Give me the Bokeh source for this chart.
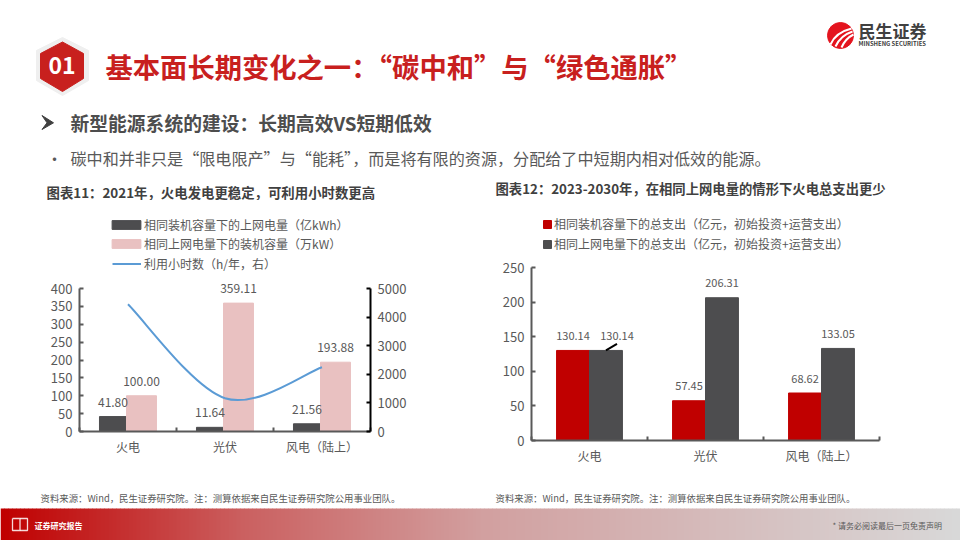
from bokeh.plotting import figure
from bokeh.models import (ColumnDataSource, Range1d, LinearAxis, FixedTicker, LabelSet,
                          Legend, LegendItem)
from bokeh.layouts import column, row
from bokeh.core.properties import value
from bokeh.embed import file_html
from bokeh.resources import INLINE
import numpy as np

FONT = "Noto Sans CJK SC"
GREY = "#595959"

# ---- data ----
categories = ["火电", "光伏", "风电（陆上）"]
grid_power = [41.80, 11.64, 21.56]
capacity = [100.00, 359.11, 193.88]
hours = [4448, 1163, 2246]
cost_same_capacity = [130.14, 57.45, 68.62]
cost_same_power = [130.14, 206.31, 133.05]
left_ticks = [0, 50, 100, 150, 200, 250, 300, 350, 400]
right_ticks = [0, 1000, 2000, 3000, 4000, 5000]
cost_ticks = [0, 50, 100, 150, 200, 250]

title_text = "基本面长期变化之一：“碳中和”与“绿色通胀”"
sub_text = "新型能源系统的建设：长期高效VS短期低效"
bullet_text = "碳中和并非只是“限电限产”与“能耗”，而是将有限的资源，分配给了中短期内相对低效的能源。"
title_11 = "图表11：2021年，火电发电更稳定，可利用小时数更高"
title_12 = "图表12：2023-2030年，在相同上网电量的情形下火电总支出更少"
legend_11 = ["相同装机容量下的上网电量（亿kWh）", "相同上网电量下的装机容量（万kW）", "利用小时数（h/年，右）"]
legend_12 = ["相同装机容量下的总支出（亿元，初始投资+运营支出）", "相同上网电量下的总支出（亿元，初始投资+运营支出）"]
source_text = "资料来源：Wind，民生证券研究院。注：测算依据来自民生证券研究院公用事业团队。"

pos = [i + 0.5 for i in range(len(categories))]

# frame heights in px: the frames reach above the axes so labels and legends stay unclipped
L_TOP, L_AXIS, L_ZERO = 200, 288, 431
R_TOP, R_AXIS, R_ZERO = 200, 267, 440


def blank(width, height, x_range, y_range):
    p = figure(width=width, height=height, x_range=x_range, y_range=y_range,
               output_backend="svg", toolbar_location=None, min_border=0)
    p.axis.visible = False
    p.grid.visible = False
    p.outline_line_color = None
    return p


def put(p, x, y, text, size, color=GREY, style="normal", align="left"):
    p.text([x], [y], text=[text], text_font=value(FONT), text_font_size=f"{size}px",
           text_font_style=style, text_color=color, text_baseline="middle", text_align=align)


def style_axis(ax, color=GREY):
    ax.axis_line_color = color
    ax.axis_line_width = 2
    ax.major_tick_line_color = color
    ax.major_tick_line_width = 2
    ax.major_tick_in = 4
    ax.major_tick_out = 0
    ax.minor_tick_line_color = None
    ax.major_label_text_font = FONT
    ax.major_label_text_font_size = "13px"
    ax.major_label_text_color = GREY
    ax.major_label_standoff = 7


def chart_axes(p, ticks):
    ax = p.yaxis[0]
    ax.ticker = FixedTicker(ticks=ticks)
    ax.bounds = (ticks[0], ticks[-1])
    style_axis(ax)
    bx = p.xaxis[0]
    bx.ticker = FixedTicker(ticks=pos, minor_ticks=list(range(len(categories) + 1)))
    bx.major_label_overrides = {x: c for x, c in zip(pos, categories)}
    style_axis(bx)
    bx.major_tick_line_color = None
    bx.minor_tick_in = 4
    bx.minor_tick_out = 0
    bx.minor_tick_line_color = GREY
    bx.minor_tick_line_width = 2
    bx.major_label_text_font_size = "12px"
    bx.major_label_standoff = 6
    p.grid.visible = False
    p.outline_line_color = None


def value_labels(p, xs, ys, texts, size):
    src = ColumnDataSource(dict(x=xs, y=ys, t=texts))
    p.add_layout(LabelSet(x="x", y="y", text="t", source=src, y_offset=14.5, text_align="center",
                          text_baseline="middle", text_font=value(FONT), text_font_size=f"{size}px",
                          text_color=GREY))


def make_legend(items, location, glyph_w, glyph_h, standoff, spacing):
    return Legend(items=items, location=location, background_fill_alpha=0, border_line_color=None,
                  margin=0, padding=0, glyph_width=glyph_w, glyph_height=glyph_h, label_standoff=standoff,
                  label_height=14, spacing=spacing, label_text_font=FONT, label_text_font_size="12px",
                  label_text_color=GREY)


# ---- header ----
head = blank(960, 200, Range1d(0, 960), Range1d(200, 0))
head.patch([62, 88, 88, 62, 36, 36], [37, 50, 80, 95, 80, 50], color="#efefef")
head.patch([62, 83, 83, 62, 40, 40], [41.5, 53, 78, 91, 78, 53], color="#C8201E")
put(head, 61.5, 65, "01", 23, "#ffffff", "bold", "center")
put(head, 105, 65, title_text, 27.3, "#C8201E", "bold")
head.patch([41.5, 53, 41.5, 46.5], [115, 122.3, 129, 122.3], color="#404040")
put(head, 70, 122, sub_text, 18.8, "#4d4d4d", "bold")
put(head, 54, 157, "•", 16, align="center")
put(head, 70, 157, bullet_text, 16.1)
put(head, 46, 191, title_11, 13.4, "#404040", "bold")
put(head, 495, 188, title_12, 13.33, "#404040", "bold")
head.circle([840], [35], radius=13, color="#E4141E")
head.quadratic(x0=[830, 835, 841], y0=[44, 46, 47], x1=[851, 852, 853], y1=[28, 31, 34],
               cx=[835, 840, 845], cy=[32, 35, 38], line_color="#ffffff", line_width=2)
put(head, 858, 30, "民生证券", 17, "#404040", "bold")
put(head, 858, 43, "MINSHENG SECURITIES", 5.9, "#404040", "bold")

# ---- chart 11 ----
l_scale = (L_ZERO - L_TOP) / (L_ZERO - L_AXIS)
left = figure(width=480, height=285, x_range=Range1d(0, 3), y_range=Range1d(0, left_ticks[-1] * l_scale),
              extra_y_ranges={"hours": Range1d(0, right_ticks[-1] * l_scale)},
              output_backend="svg", toolbar_location=None, frame_align=False,
              min_border_left=79, min_border_right=110, min_border_top=0, min_border_bottom=485 - L_ZERO)
chart_axes(left, left_ticks)
r_axis = LinearAxis(y_range_name="hours", ticker=FixedTicker(ticks=right_ticks),
                    bounds=(right_ticks[0], right_ticks[-1]))
style_axis(r_axis, "#000000")
left.add_layout(r_axis, "right")

x_dark = [x - 0.155 for x in pos]
x_pink = [x + 0.139 for x in pos]
b1 = left.vbar(x=x_dark, top=grid_power, width=0.278, color="#4D4D4F")
b2 = left.vbar(x=x_pink, top=capacity, width=0.309, color="#E9C1C1")


def catmull(xs, ys):
    n = len(xs)
    out = {k: [] for k in ("x0", "y0", "x1", "y1", "cx0", "cy0", "cx1", "cy1")}
    for i in range(n - 1):
        a, b = max(i - 1, 0), min(i + 2, n - 1)
        out["x0"].append(xs[i]); out["y0"].append(ys[i])
        out["x1"].append(xs[i + 1]); out["y1"].append(ys[i + 1])
        out["cx0"].append(xs[i] + (xs[i + 1] - xs[a]) / 6)
        out["cy0"].append(ys[i] + (ys[i + 1] - ys[a]) / 6)
        out["cx1"].append(xs[i + 1] - (xs[b] - xs[i]) / 6)
        out["cy1"].append(ys[i + 1] - (ys[b] - ys[i]) / 6)
    return out


curve = left.bezier(source=ColumnDataSource(catmull(pos, hours)), x0="x0", y0="y0", x1="x1", y1="y1",
                    cx0="cx0", cy0="cy0", cx1="cx1", cy1="cy1", y_range_name="hours",
                    line_color="#5B9BD5", line_width=2)
value_labels(left, x_dark, grid_power, [f"{v:.2f}" for v in grid_power], 12)
value_labels(left, x_pink, capacity, [f"{v:.2f}" for v in capacity], 12)
left.add_layout(make_legend([LegendItem(label=t, renderers=[r]) for t, r in zip(legend_11[:2], [b1, b2])],
                            (29, 179), 36, 11, 0, 2))
left.add_layout(make_legend([LegendItem(label=legend_11[2], renderers=[curve])], (33, 159), 29, 9, 3, 0))

# ---- chart 12 ----
r_scale = (R_ZERO - R_TOP) / (R_ZERO - R_AXIS)
right = figure(width=480, height=285, x_range=Range1d(0, 3), y_range=Range1d(0, cost_ticks[-1] * r_scale),
               output_backend="svg", toolbar_location=None, frame_align=False,
               min_border_left=51, min_border_right=81, min_border_top=0, min_border_bottom=485 - R_ZERO)
chart_axes(right, cost_ticks)
x_red = [x - 0.142 for x in pos]
x_gray = [x + 0.142 for x in pos]
b3 = right.vbar(x=x_red, top=cost_same_capacity, width=0.284, color="#C00000")
b4 = right.vbar(x=x_gray, top=cost_same_power, width=0.284, color="#4D4D4F")
value_labels(right, x_red, cost_same_capacity, [f"{v:.2f}" for v in cost_same_capacity], 11)
shift = [0.095, 0, 0]
value_labels(right, [x + s for x, s in zip(x_gray, shift)], cost_same_power,
             [f"{v:.2f}" for v in cost_same_power], 11)
right.segment(x0=[x_gray[0]], y0=[cost_same_power[0]], x1=[x_gray[0] + 0.095],
              y1=[cost_same_power[0] + 9.5], line_color="#000000", line_width=2)
right.add_layout(make_legend([LegendItem(label=t, renderers=[r]) for t, r in zip(legend_12, [b3, b4])],
                             (11, 188), 10, 10, 2, 3))

# ---- footer ----
foot = blank(960, 55, Range1d(0, 960), Range1d(540, 485))
put(foot, 40, 497, source_text, 9.4)
put(foot, 495, 497, source_text, 9.4)
edges = np.arange(0, 960, 4)
stops_x, stops = [0, 240, 480, 960], np.array([[192, 0, 0], [203, 96, 96], [210, 160, 160], [217, 217, 217]])
cols = ["#%02x%02x%02x" % tuple(int(np.interp(e, stops_x, stops[:, k])) for k in range(3)) for e in edges]
foot.quad(left=edges, right=edges + 4.5, top=508, bottom=540, color=cols, line_color=None)
foot.multi_line([[12, 19.5, 19.5, 12, 12], [19.5, 27, 27, 19.5]], [[518, 518, 530, 530, 518], [518, 518, 530, 530]],
                line_color="#ffffff", line_width=1.3, line_alpha=0.85)
put(foot, 34, 525, "证券研究报告", 8, "#ffffff", "bold")
put(foot, 832, 525, "* 请务必阅读最后一页免责声明", 8, "#595959")

page = column(head, row(left, right, spacing=0), foot, spacing=0)
open("out.html", "w").write(file_html(page, INLINE))
